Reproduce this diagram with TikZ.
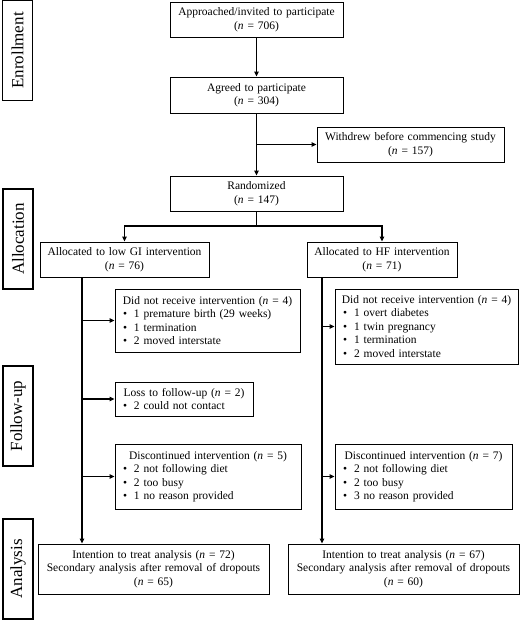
\documentclass[tikz,border=0pt]{standalone}
\usepackage{fontspec}
\setmainfont{Liberation Serif}
\usetikzlibrary{arrows.meta}
\newcommand\bul{\makebox[11pt][l]{\textbullet}}
\begin{document}
\begin{tikzpicture}[x=1pt,y=-1pt,
  cbox/.style={draw, line width=0.9pt, inner xsep=2pt, inner ysep=0pt, align=center,
    font=\fontsize{11.5}{13.5}\selectfont},
  lbox/.style={draw, line width=0.9pt, inner xsep=8pt, inner ysep=0pt, align=left,
    font=\fontsize{11.5}{13.5}\selectfont},
  lab/.style={draw, line width=1.8pt, rotate=90, minimum width=100pt, minimum height=30pt,
    inner sep=0pt, font=\fontsize{17}{20}\selectfont},
  arr/.style={line width=1.2pt, -{Triangle[length=5pt,width=4.5pt]}},
  ln/.style={line width=1.2pt}]
\useasboundingbox (0,0) rectangle (520,620);

% stage labels
\node[lab] (enr) at (17.5,50.5) {Enrollment};
\node[lab] (alc) at (18,239) {Allocation};
\node[lab] (fol) at (18,416) {Follow-up};
\node[lab] (ana) at (18,569) {Analysis};

% main boxes
\node[cbox, minimum width=173pt, text width=169pt, minimum height=35pt] (app) at (256.5,19.5)
  {Approached/invited to participate\\(\textit{n} = 706)};
\node[cbox, minimum width=173pt, text width=169pt, minimum height=36pt] (agr) at (256.5,95)
  {Agreed to participate\\(\textit{n} = 304)};
\node[cbox, minimum width=187pt, text width=183pt, minimum height=35pt] (wd) at (410.5,144.5)
  {Withdrew before commencing study\\(\textit{n} = 157)};
\node[cbox, minimum width=173pt, text width=169pt, minimum height=35pt] (rnd) at (256.5,193.5)
  {Randomized\\(\textit{n} = 147)};
\node[cbox, minimum width=169pt, text width=165pt, minimum height=35pt] (lgi) at (124.5,259.5)
  {Allocated to low GI intervention\\(\textit{n} = 76)};
\node[cbox, minimum width=150pt, text width=146pt, minimum height=35pt] (hf) at (382,259.5)
  {Allocated to HF intervention\\(\textit{n} = 71)};

% left arm
\node[lbox, minimum width=185pt, text width=169pt, minimum height=63pt] (dnra) at (207.5,320.5)
  {\makebox[\linewidth]{Did not receive intervention (\textit{n} = 4)}\\
   \bul 1 premature birth (29 weeks)\\ \bul 1 termination\\ \bul 2 moved interstate};
\node[lbox, minimum width=138pt, text width=122pt, minimum height=34pt] (loss) at (184,399)
  {\makebox[\linewidth]{Loss to follow-up (\textit{n} = 2)}\\ \bul 2 could not contact};
\node[lbox, minimum width=186pt, text width=170pt, minimum height=65pt] (disca) at (208,476.5)
  {\makebox[\linewidth]{Discontinued intervention (\textit{n} = 5)}\\
   \bul 2 not following diet\\ \bul 2 too busy\\ \bul 1 no reason provided};
\node[cbox, minimum width=231pt, text width=227pt, minimum height=50pt] (itta) at (153.5,569)
  {Intention to treat analysis (\textit{n} = 72)\\Secondary analysis after removal of dropouts\\(\textit{n} = 65)};

% right arm
\node[lbox, minimum width=183pt, text width=167pt, minimum height=75pt] (dnrb) at (426.5,326.5)
  {\makebox[\linewidth]{Did not receive intervention (\textit{n} = 4)}\\
   \bul 1 overt diabetes\\ \bul 1 twin pregnancy\\ \bul 1 termination\\ \bul 2 moved interstate};
\node[lbox, minimum width=177pt, text width=161pt, minimum height=65pt] (discb) at (423.5,476.5)
  {\makebox[\linewidth]{Discontinued intervention (\textit{n} = 7)}\\
   \bul 2 not following diet\\ \bul 2 too busy\\ \bul 3 no reason provided};
\node[cbox, minimum width=231pt, text width=227pt, minimum height=50pt] (ittb) at (403.5,569)
  {Intention to treat analysis (\textit{n} = 67)\\Secondary analysis after removal of dropouts\\(\textit{n} = 60)};

% connectors
\draw[arr] (app) -- (agr);
\draw[arr] (agr) -- (rnd);
\draw[arr] (agr.south |- wd.west) -- (wd.west);
\coordinate (sp) at (256.5,226);
\draw[ln] (rnd.south) -- (sp);
\draw[arr] (sp) -| (lgi.north);
\draw[arr] (sp) -| (hf.north);

\coordinate (lx) at (82,0);
\draw[arr] (lx |- lgi.south) -- (lx |- itta.north);
\draw[arr] (lx |- dnra.west) -- (dnra.west);
\draw[arr] (lx |- loss.west) -- (loss.west);
\draw[arr] (lx |- disca.west) -- (disca.west);

\coordinate (rx) at (322,0);
\draw[arr] (rx |- hf.south) -- (rx |- ittb.north);
\draw[arr] (rx |- dnrb.west) -- (dnrb.west);
\draw[arr] (rx |- discb.west) -- (discb.west);
\end{tikzpicture}
\end{document}
